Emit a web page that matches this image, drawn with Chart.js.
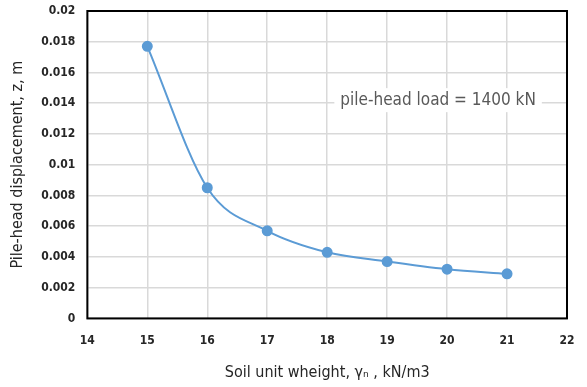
<!DOCTYPE html>
<html>
<head>
<meta charset="utf-8">
<script src="https://cdn.jsdelivr.net/npm/chart.js@4"></script>
<style>
  html, body { margin: 0; padding: 0; background: #fff; }
  #wrap { width: 587px; height: 387px; }
</style>
</head>
<body>
<div id="wrap"><canvas id="chart" width="587" height="387"></canvas></div>
<script>
// data
const unitWeight = [15, 16, 17, 18, 19, 20, 21];
const displacement = [0.0177, 0.0085, 0.0057, 0.0043, 0.0037, 0.0032, 0.0029];
const xTicks = [14, 15, 16, 17, 18, 19, 20, 21, 22];
const yTicks = [0, 0.002, 0.004, 0.006, 0.008, 0.01, 0.012, 0.014, 0.016, 0.018, 0.02];
const noteText = 'pile-head load = 1400 kN';

const points = unitWeight.map((x, i) => ({ x: x, y: displacement[i] }));

const narrow = '"DejaVu Sans Condensed", "Liberation Sans Narrow", sans-serif';

// frame round the plot area + the load note
const framePlugin = {
  id: 'frame',
  afterDraw(chart) {
    const { ctx, chartArea: a, scales } = chart;
    ctx.save();
    ctx.font = '17px ' + narrow;
    const w = ctx.measureText(noteText).width;
    const cx = scales.x.getPixelForValue(19.85);
    const cy = scales.y.getPixelForValue(0.0142);
    ctx.fillStyle = '#fff';
    ctx.fillRect(cx - w / 2 - 6, cy - 12, w + 12, 24);
    ctx.fillStyle = '#595959';
    ctx.textAlign = 'center';
    ctx.textBaseline = 'middle';
    ctx.fillText(noteText, cx, cy);
    ctx.strokeStyle = '#000';
    ctx.lineWidth = 2;
    ctx.strokeRect(a.left, a.top, a.right - a.left, a.bottom - a.top);
    ctx.restore();
  }
};

const ctx = document.getElementById('chart').getContext('2d');
new Chart(ctx, {
  type: 'scatter',
  data: {
    datasets: [{
      data: points,
      showLine: true,
      borderColor: '#5b9bd5',
      backgroundColor: '#5b9bd5',
      borderWidth: 2,
      pointRadius: 4.5,
      pointHoverRadius: 4.5,
      tension: 0.4,
      cubicInterpolationMode: 'monotone'
    }]
  },
  options: {
    responsive: false,
    animation: false,
    layout: { padding: { top: 11, right: 20, left: 4, bottom: 3 } },
    plugins: { legend: { display: false }, tooltip: { enabled: false } },
    scales: {
      x: {
        min: 14, max: 22,
        afterBuildTicks: (s) => { s.ticks = xTicks.map(v => ({ value: v })); },
        afterFit: (s) => { s.paddingRight = 0; s.paddingLeft = 0; },
        grid: { color: '#d9d9d9', lineWidth: 1.5, drawTicks: false },
        border: { display: false },
        ticks: { color: '#262626', padding: 15, font: { size: 12, weight: 'bold', family: narrow } },
        title: { display: true, text: 'Soil unit wheight, γₙ , kN/m3', color: '#262626', font: { size: 16, family: narrow }, padding: { top: 0, bottom: 2 } }
      },
      y: {
        min: 0, max: 0.02,
        afterBuildTicks: (s) => { s.ticks = yTicks.map(v => ({ value: v })); },
        afterFit: (s) => { s.paddingTop = 0; s.paddingBottom = 0; },
        grid: { color: '#d9d9d9', lineWidth: 1.5, drawTicks: false },
        border: { display: false },
        ticks: { color: '#262626', padding: 12, font: { size: 12, weight: 'bold', family: narrow }, callback: (v) => String(v) },
        title: { display: true, text: 'Pile-head displacement, z, m', color: '#262626', font: { size: 16, family: narrow }, padding: { bottom: 2 } }
      }
    }
  },
  plugins: [framePlugin]
});
</script>
</body>
</html>
